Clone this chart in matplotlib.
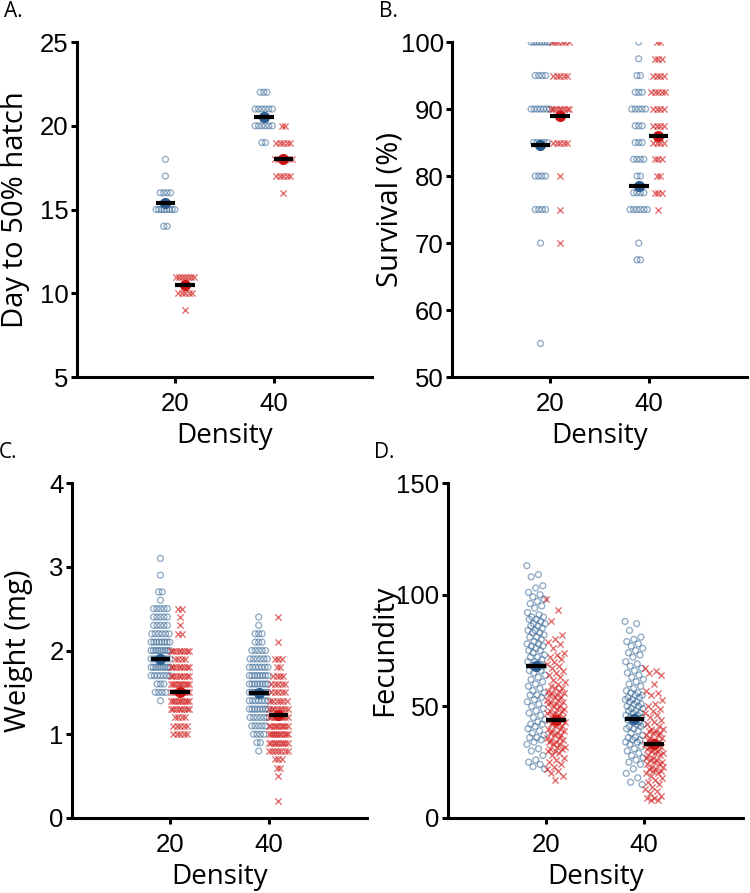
import matplotlib
matplotlib.use('Agg')
import matplotlib.pyplot as plt
import numpy as np

# ---- data ----
density = ['20', '40']

# A. day to 50% hatch: value levels and counts per group
hatch_lv = [22, 21, 20, 19, 18, 17, 16, 15, 14, 11, 10, 9]
hatch_b20 = [0, 0, 0, 0, 1, 1, 4, 8, 2, 0, 0, 0]
hatch_r20 = [0, 0, 0, 0, 0, 0, 0, 0, 0, 7, 5, 1]
hatch_b40 = [3, 6, 6, 2, 0, 0, 0, 0, 0, 0, 0, 0]
hatch_r40 = [0, 0, 2, 5, 6, 5, 1, 0, 0, 0, 0, 0]
hatch_mean_b = [15.4, 20.5]
hatch_mean_r = [10.5, 18.0]

# B. survival (%)
surv_lv = [100, 97.5, 95, 92.5, 90, 87.5, 85, 82.5, 80, 77.5, 75, 70, 67.5, 55]
surv_b20 = [8, 0, 4, 0, 7, 0, 5, 0, 4, 0, 4, 1, 0, 1]
surv_r20 = [6, 0, 5, 0, 8, 0, 5, 0, 1, 0, 1, 1, 0, 0]
surv_b40 = [1, 1, 2, 3, 5, 3, 3, 4, 2, 4, 6, 1, 2, 0]
surv_r40 = [2, 3, 4, 5, 4, 4, 4, 3, 2, 3, 1, 0, 0, 0]
surv_mean_b = [84.7, 78.5]
surv_mean_r = [89.0, 86.0]

# C. weight (mg)
wt_lv = [3.1, 2.9, 2.7, 2.6, 2.5, 2.4, 2.3, 2.2, 2.1, 2.0, 1.9, 1.8, 1.7, 1.6, 1.5, 1.4,
         1.3, 1.2, 1.1, 1.0, 0.9, 0.8, 0.7, 0.6, 0.5, 0.2]
wt_b20 = [1, 1, 2, 1, 5, 5, 5, 6, 8, 9, 8, 9, 7, 3, 4, 1, 0, 0, 0, 0, 0, 0, 0, 0, 0, 0]
wt_r20 = [0, 0, 0, 0, 2, 1, 1, 2, 0, 8, 4, 8, 8, 9, 9, 9, 8, 4, 5, 5, 0, 0, 0, 0, 0, 0]
wt_b40 = [0, 0, 0, 0, 0, 1, 1, 3, 3, 5, 6, 7, 8, 8, 9, 7, 8, 6, 5, 4, 2, 1, 0, 0, 0, 0]
wt_r40 = [0, 0, 0, 0, 0, 1, 0, 0, 1, 0, 3, 2, 4, 5, 5, 6, 8, 9, 9, 10, 9, 7, 3, 2, 1, 1]
wt_mean_b = [1.90, 1.49]
wt_mean_r = [1.50, 1.23]

# D. fecundity (individual values)
fec_b20 = [113, 109, 108, 104, 103, 101, 100, 99, 98, 97, 96, 95, 94, 92, 91, 90, 90, 89,
           89, 88, 87, 87, 86, 86, 85, 84, 84, 83, 83, 82, 81, 81, 80, 79, 78, 78, 77, 77,
           76, 75, 75, 74, 73, 72, 72, 71, 70, 70, 69, 68, 68, 67, 66, 66, 65, 64, 63, 62,
           61, 60, 59, 58, 57, 56, 55, 55, 54, 53, 52, 51, 50, 49, 48, 47, 46, 45, 44, 43,
           42, 42, 41, 40, 39, 38, 37, 36, 36, 35, 34, 33, 31, 30, 28, 26, 25, 24, 23, 22]
fec_r20 = [98, 93, 88, 82, 80, 79, 78, 76, 74, 73, 72, 71, 70, 69, 68, 67, 66, 65, 64, 63,
           62, 61, 60, 59, 58, 58, 57, 57, 56, 56, 55, 55, 54, 54, 53, 53, 52, 52, 51, 51,
           50, 50, 49, 49, 48, 48, 47, 47, 46, 46, 45, 45, 44, 44, 43, 43, 42, 42, 41, 41,
           40, 40, 39, 39, 38, 38, 37, 37, 36, 36, 35, 35, 34, 34, 33, 33, 32, 32, 31, 31,
           30, 30, 29, 28, 27, 26, 25, 24, 23, 22, 21, 20, 19, 17]
fec_b40 = [88, 87, 84, 81, 80, 79, 78, 77, 76, 75, 74, 73, 72, 70, 69, 68, 67, 66, 65, 64,
           63, 62, 61, 60, 59, 58, 57, 56, 56, 55, 55, 54, 54, 53, 53, 52, 52, 51, 51, 50,
           50, 49, 49, 48, 48, 47, 47, 46, 46, 45, 45, 44, 44, 43, 43, 42, 42, 41, 41, 40,
           40, 39, 38, 37, 36, 36, 35, 35, 34, 34, 33, 32, 31, 30, 29, 28, 27, 26, 25, 24,
           22, 20, 18, 16, 15]
fec_r40 = [67, 66, 65, 64, 60, 57, 56, 55, 53, 51, 50, 49, 48, 47, 46, 45, 44, 43, 42, 41,
           40, 40, 39, 39, 38, 38, 37, 37, 36, 36, 35, 35, 34, 34, 33, 33, 32, 32, 31, 31,
           30, 30, 29, 29, 28, 28, 27, 27, 26, 26, 25, 25, 24, 24, 23, 23, 22, 22, 21, 21,
           20, 20, 19, 18, 17, 16, 15, 14, 13, 12, 11, 10, 9, 9, 8, 8]
fec_mean_b = [68, 44.5]
fec_mean_r = [44, 33]

blue = '#2b5e90'
red = '#d01515'
tick_font = 'Liberation Sans'
label_font = 'Open Sans'


def stacked(levels, counts):
    return np.repeat(np.array(levels, dtype=float), counts)


def spread_x(vals, center):
    # points with the same value are laid side by side
    xs = np.zeros(len(vals))
    for v in np.unique(vals):
        idx = np.where(vals == v)[0]
        n = len(idx)
        dx = min(0.035, 0.19 / (n - 1)) if n > 1 else 0
        xs[idx] = center + (np.arange(n) - (n - 1) / 2) * dx
    return xs


def jitter_x(vals, center):
    k = np.arange(len(vals))
    return center + ((k * 0.618034) % 1 - 0.5) * 0.19


def panel(rect, letter, groups, means_b, means_r, ylim, yticks, ylabel, ylab_x, discrete=True):
    ax = fig.add_axes(rect)
    for i, (vb, vr) in enumerate(groups):
        xc = i + 1
        vb = np.asarray(vb, dtype=float)
        vr = np.asarray(vr, dtype=float)
        fx = spread_x if discrete else jitter_x
        ax.scatter(fx(vb, xc - 0.1), vb, s=18, facecolors='none', edgecolors=blue,
                   linewidths=1.0, alpha=0.5, zorder=2)
        ax.scatter(fx(vr, xc + 0.1), vr, s=20, marker='x', color=red,
                   linewidths=1.0, alpha=0.6, zorder=3)
        ax.plot(xc - 0.1, means_b[i], 'o', color=blue, ms=7, zorder=4)
        ax.plot(xc + 0.1, means_r[i], 'o', color=red, ms=7, zorder=4)
        ax.plot([xc - 0.2, xc], [means_b[i]] * 2, color='black', lw=3, solid_capstyle='butt', zorder=5)
        ax.plot([xc, xc + 0.2], [means_r[i]] * 2, color='black', lw=3, solid_capstyle='butt', zorder=5)
    ax.set_xlim(0, 3)
    ax.set_ylim(*ylim)
    ax.set_yticks(yticks)
    ax.set_xticks([1, 2])
    ax.set_xticklabels(density)
    for s in ['top', 'right']:
        ax.spines[s].set_visible(False)
    for s in ['left', 'bottom']:
        ax.spines[s].set_linewidth(2.2)
    ax.tick_params(axis='both', width=2.2, length=4, labelsize=18.5)
    ax.tick_params(axis='x', pad=7)
    ax.tick_params(axis='y', pad=2)
    for t in ax.get_xticklabels() + ax.get_yticklabels():
        t.set_fontfamily(tick_font)
    for sp in ax.spines.values():
        sp.set_clip_on(False)
    ax.set_xlabel('Density', fontsize=20, family=label_font, labelpad=4)
    ax.set_ylabel(ylabel, fontsize=21, family=label_font)
    ax.yaxis.set_label_coords(ylab_x, 0.5)
    fig.text(rect[0] - 0.098, rect[1] + rect[3] + 0.028, letter, fontsize=15, family=label_font)
    return ax


fig = plt.figure(figsize=(7.5, 8.93), dpi=100, facecolor='w')

panel([0.1027, 0.5778, 0.393, 0.3751], 'A.',
      [(stacked(hatch_lv, hatch_b20), stacked(hatch_lv, hatch_r20)),
       (stacked(hatch_lv, hatch_b40), stacked(hatch_lv, hatch_r40))],
      hatch_mean_b, hatch_mean_r, (5, 25), [5, 10, 15, 20, 25], 'Day to 50% hatch', -0.16)

panel([0.6027, 0.5778, 0.393, 0.3751], 'B.',
      [(stacked(surv_lv, surv_b20), stacked(surv_lv, surv_r20)),
       (stacked(surv_lv, surv_b40), stacked(surv_lv, surv_r40))],
      surv_mean_b, surv_mean_r, (50, 100), [50, 60, 70, 80, 90, 100], 'Survival (%)', -0.16)

panel([0.096, 0.084, 0.393, 0.3751], 'C.',
      [(stacked(wt_lv, wt_b20), stacked(wt_lv, wt_r20)),
       (stacked(wt_lv, wt_b40), stacked(wt_lv, wt_r40))],
      wt_mean_b, wt_mean_r, (0, 4), [0, 1, 2, 3, 4], 'Weight (mg)', -0.133)

panel([0.597, 0.084, 0.393, 0.3751], 'D.',
      [(fec_b20, fec_r20), (fec_b40, fec_r40)],
      fec_mean_b, fec_mean_r, (0, 150), [0, 50, 100, 150], 'Fecundity', -0.165, discrete=False)

plt.savefig('out.png', dpi=100)
